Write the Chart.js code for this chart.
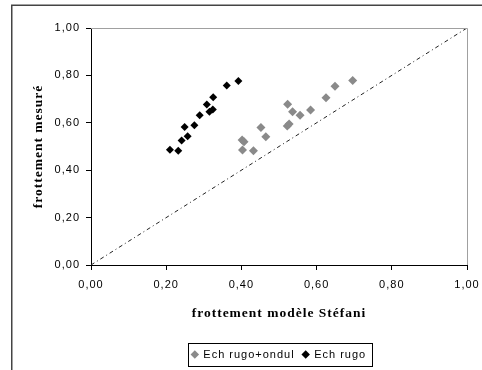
<!DOCTYPE html>
<html>
<head>
<meta charset="utf-8">
<script src="https://cdn.jsdelivr.net/npm/chart.js@4"></script>
<style>
  html, body { margin: 0; padding: 0; background: #fff; }
  canvas { display: block; }
</style>
</head>
<body>
<canvas id="c" width="482" height="370"></canvas>
<script>
// Series names as shown in the legend
const seriesNames = ['Ech rugo+ondul', 'Ech rugo'];

// Ech rugo+ondul: model friction (x) vs measured friction (y)
const rugoOndulX = [0.402, 0.407, 0.403, 0.432, 0.452, 0.465, 0.522, 0.527, 0.523, 0.536, 0.556, 0.584, 0.625, 0.649, 0.696];
const rugoOndulY = [0.527, 0.520, 0.485, 0.482, 0.580, 0.541, 0.587, 0.595, 0.678, 0.647, 0.632, 0.654, 0.706, 0.754, 0.778];

// Ech rugo
const rugoX = [0.210, 0.232, 0.241, 0.257, 0.249, 0.275, 0.289, 0.315, 0.324, 0.308, 0.325, 0.361, 0.392];
const rugoY = [0.486, 0.482, 0.525, 0.543, 0.582, 0.590, 0.632, 0.647, 0.656, 0.677, 0.708, 0.757, 0.776];

// y = x reference line
const diagonalX = [0, 1];
const diagonalY = [0, 1];

// Axis tick labels (French decimal comma)
const tickLabels = ['0,00', '0,20', '0,40', '0,60', '0,80', '1,00'];

const xTitle = 'frottement modèle Stéfani';
const yTitle = 'frottement mesuré';

const toPoints = (xs, ys) => xs.map((x, i) => ({ x: x, y: ys[i] }));

const sansFont = "'Liberation Sans', Arial, sans-serif";
const serifFont = "'Liberation Serif', 'Times New Roman', serif";

// Slightly spaced lettering for all canvas text
const spacing = {
  id: 'spacing',
  beforeUpdate(chart) { chart.ctx.letterSpacing = '1px'; },
  beforeDraw(chart) { chart.ctx.letterSpacing = '1px'; }
};

// Outer frame, grey plot edges and the box around the legend
const frames = {
  id: 'frames',
  afterDraw(chart) {
    const ctx = chart.ctx;
    const a = chart.chartArea;
    ctx.save();
    ctx.lineWidth = 1;
    ctx.strokeStyle = '#a0a0a0';
    ctx.beginPath();
    ctx.moveTo(a.left, Math.round(a.top) + 0.5);
    ctx.lineTo(Math.round(a.right) + 0.5, Math.round(a.top) + 0.5);
    ctx.lineTo(Math.round(a.right) + 0.5, a.bottom);
    ctx.stroke();

    ctx.strokeStyle = '#444';
    ctx.lineWidth = 1.5;
    ctx.beginPath();
    ctx.moveTo(11.75, chart.height);
    ctx.lineTo(11.75, 5.25);
    ctx.lineTo(chart.width, 5.25);
    ctx.stroke();

    const hb = chart.legend.legendHitBoxes;
    if (hb && hb.length) {
      let l = Infinity, r = -Infinity, t = Infinity, b = -Infinity;
      hb.forEach(h => {
        l = Math.min(l, h.left); r = Math.max(r, h.left + h.width);
        t = Math.min(t, h.top); b = Math.max(b, h.top + h.height);
      });
      ctx.strokeStyle = '#000';
      ctx.lineWidth = 1;
      ctx.strokeRect(Math.round(l - 4) + 0.5, Math.round(t - 6) + 0.5,
                     Math.round(r - l + 10), Math.round(b - t + 12));
    }
    ctx.restore();
  }
};

new Chart(document.getElementById('c'), {
  type: 'scatter',
  data: {
    datasets: [
      {
        label: seriesNames[0],
        data: toPoints(rugoOndulX, rugoOndulY),
        backgroundColor: '#8a8a8a',
        borderColor: '#8a8a8a',
        borderWidth: 0,
        pointStyle: 'rectRot',
        pointRadius: 4.5,
        pointHoverRadius: 4.5
      },
      {
        label: seriesNames[1],
        data: toPoints(rugoX, rugoY),
        backgroundColor: '#000',
        borderColor: '#000',
        borderWidth: 0,
        pointStyle: 'rectRot',
        pointRadius: 4,
        pointHoverRadius: 4
      },
      {
        label: 'diag',
        data: toPoints(diagonalX, diagonalY),
        showLine: true,
        borderColor: '#222',
        borderWidth: 1,
        borderDash: [4, 3, 1, 3],
        pointRadius: 0,
        fill: false
      }
    ]
  },
  options: {
    responsive: false,
    animation: false,
    events: [],
    layout: { padding: { top: 28, right: 15, bottom: 0, left: 0 } },
    plugins: {
      tooltip: { enabled: false },
      legend: {
        position: 'bottom',
        fullSize: false,
        labels: {
          filter: item => item.datasetIndex < 2,
          usePointStyle: true,
          pointStyle: 'rectRot',
          boxWidth: 6,
          boxHeight: 6,
          padding: 8,
          color: '#000',
          font: { family: sansFont, size: 11 }
        }
      }
    },
    scales: {
      x: {
        type: 'linear',
        min: 0, max: 1,
        afterFit(scale) { scale.height = 76; scale.paddingRight = 0; scale.paddingLeft = 0; },
        ticks: {
          stepSize: 0.2,
          padding: 8,
          color: '#000',
          font: { family: sansFont, size: 11 },
          maxRotation: 0,
          callback: (v, i) => tickLabels[i]
        },
        grid: { drawOnChartArea: false, drawTicks: true, tickLength: 5, color: '#000' },
        border: { display: true, color: '#000', width: 1 },
        title: {
          display: true,
          text: xTitle,
          color: '#000',
          font: { family: serifFont, size: 13.5, weight: 'bold' },
          padding: { top: 0, bottom: 19 }
        }
      },
      y: {
        type: 'linear',
        min: 0, max: 1,
        afterFit(scale) { scale.width = 91; },
        ticks: {
          stepSize: 0.2,
          padding: 6,
          color: '#000',
          font: { family: sansFont, size: 11 },
          callback: (v, i) => tickLabels[i]
        },
        grid: { drawOnChartArea: false, drawTicks: true, tickLength: 5, color: '#000' },
        border: { display: true, color: '#000', width: 1 },
        title: {
          display: true,
          text: yTitle,
          color: '#000',
          font: { family: serifFont, size: 13.5, weight: 'bold' },
          padding: { top: 30, bottom: 0 }
        }
      }
    }
  },
  plugins: [spacing, frames]
});
</script>
</body>
</html>
